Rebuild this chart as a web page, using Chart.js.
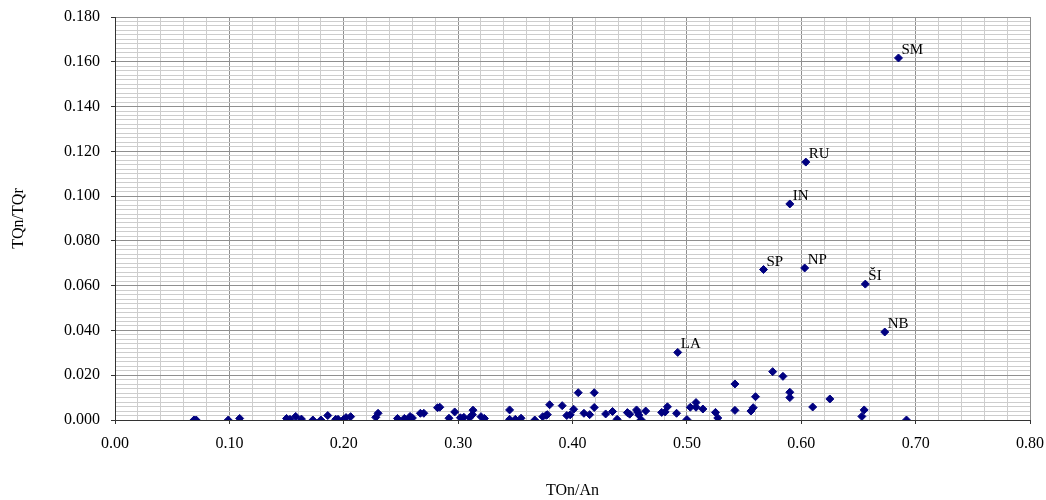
<!DOCTYPE html>
<html>
<head>
<meta charset="utf-8">
<script src="https://cdn.jsdelivr.net/npm/chart.js@4"></script>
<style>
  body { margin: 0; background: #fff; }
</style>
</head>
<body>
<canvas id="myChart" width="1046" height="500"></canvas>
<script>
// unlabeled points (TOn/An, TQn/TQr)
const otherX = [0.069, 0.071, 0.099, 0.109, 0.150, 0.153, 0.158, 0.163, 0.173, 0.180,
    0.186, 0.193, 0.195, 0.200, 0.202, 0.206, 0.228, 0.230, 0.247, 0.253,
    0.256, 0.258, 0.260, 0.267, 0.270, 0.282, 0.284, 0.292, 0.297, 0.302,
    0.305, 0.310, 0.3125, 0.313, 0.320, 0.323, 0.345, 0.345, 0.350, 0.355,
    0.367, 0.374, 0.377, 0.378, 0.380, 0.391, 0.395, 0.398, 0.401, 0.405,
    0.410, 0.415, 0.419, 0.419, 0.429, 0.435, 0.439, 0.448, 0.450, 0.456,
    0.457, 0.458, 0.460, 0.464, 0.478, 0.481, 0.483, 0.491, 0.500, 0.503,
    0.508, 0.508, 0.514, 0.525, 0.527, 0.542, 0.542, 0.556, 0.558, 0.560,
    0.575, 0.584, 0.590, 0.590, 0.610, 0.625, 0.655, 0.653, 0.692];
const otherY = [0.0000, 0.0000, 0.0000, 0.0007, 0.0007, 0.0003, 0.0016, 0.0004, 0.0000, 0.0000,
    0.0020, 0.0003, 0.0003, 0.0003, 0.0011, 0.0015, 0.0012, 0.0030, 0.0007, 0.0007,
    0.0003, 0.0016, 0.0009, 0.0030, 0.0030, 0.0055, 0.0057, 0.0008, 0.0036, 0.0010,
    0.0012, 0.0010, 0.0024, 0.0044, 0.0015, 0.0007, 0.0045, 0.0003, 0.0003, 0.0008,
    0.0000, 0.0015, 0.0021, 0.0024, 0.0068, 0.0064, 0.0020, 0.0023, 0.0048, 0.0122,
    0.0030, 0.0024, 0.0056, 0.0122, 0.0027, 0.0038, 0.0003, 0.0033, 0.0026, 0.0045,
    0.0035, 0.0022, 0.0001, 0.0040, 0.0034, 0.0036, 0.0059, 0.0030, 0.0002, 0.0057,
    0.0078, 0.0057, 0.0049, 0.0034, 0.0009, 0.0161, 0.0043, 0.0040, 0.0055, 0.0104,
    0.0216, 0.0195, 0.0124, 0.0100, 0.0058, 0.0094, 0.0045, 0.0016, 0.0000];

// labeled points
const namedCodes = ['SM', 'RU', 'IN', 'SP', 'NP', 'ŠI', 'NB', 'LA'];
const namedX = [0.685, 0.604, 0.590, 0.567, 0.603, 0.656, 0.673, 0.492];
const namedY = [0.1617, 0.1152, 0.0965, 0.0672, 0.0679, 0.0607, 0.0393, 0.0302];

const serif = '"Liberation Serif", "Times New Roman", serif';

const otherData = otherX.map((x, i) => ({ x: x, y: otherY[i] }));
const namedData = namedX.map((x, i) => ({ x: x, y: namedY[i] }));

const pointLabelPlugin = {
    id: 'pointLabels',
    afterDatasetsDraw(chart) {
        const meta = chart.getDatasetMeta(1);
        const c = chart.ctx;
        c.save();
        c.font = '15px ' + serif;
        c.fillStyle = '#000';
        c.textAlign = 'left';
        c.textBaseline = 'alphabetic';
        meta.data.forEach((el, i) => {
            c.fillText(namedCodes[i], el.x + 3, el.y - 4);
        });
        c.restore();
    }
};

function yMajor(v) { return Math.round(v * 1000) % 20 === 0; }
function xMajor(v) { return Math.round(v * 100) % 10 === 0; }

const ctx = document.getElementById('myChart');
new Chart(ctx, {
    type: 'scatter',
    data: {
        datasets: [{
            data: otherData,
            backgroundColor: '#000080',
            borderColor: '#000080',
            pointStyle: 'rectRot',
            pointRadius: 4,
            pointHoverRadius: 4
        },
        {
            data: namedData,
            backgroundColor: '#000080',
            borderColor: '#000080',
            pointStyle: 'rectRot',
            pointRadius: 4,
            pointHoverRadius: 4
        }]
    },
    options: {
        responsive: false,
        animation: false,
        layout: { padding: { top: 17, right: 16, left: 0, bottom: 0 } },
        plugins: {
            legend: { display: false },
            tooltip: { enabled: false }
        },
        scales: {
            x: {
                type: 'linear',
                min: 0,
                max: 0.8,
                afterFit: (scale) => {
                    scale.height = 80;
                    scale.paddingLeft = 0;
                    scale.paddingRight = 0;
                },
                border: { color: '#333', width: 1 },
                grid: {
                    color: (c) => xMajor(c.tick.value) ? '#8f8f8f' : '#cdcdcd',
                    tickColor: (c) => xMajor(c.tick.value) ? '#333' : 'rgba(0,0,0,0)',
                    tickLength: 4
                },
                ticks: {
                    stepSize: 0.02,
                    autoSkip: false,
                    maxRotation: 0,
                    padding: 10,
                    color: '#000',
                    font: { family: serif, size: 16 },
                    callback: (v) => xMajor(v) ? Number(v).toFixed(2) : ''
                },
                title: {
                    display: true,
                    text: 'TOn/An',
                    color: '#000',
                    font: { family: serif, size: 16 },
                    padding: { top: 0, bottom: 0 }
                }
            },
            y: {
                min: 0,
                max: 0.18,
                afterFit: (scale) => {
                    scale.width = 115;
                    scale.paddingTop = 0;
                    scale.paddingBottom = 0;
                },
                border: { color: '#333', width: 1 },
                grid: {
                    color: (c) => yMajor(c.tick.value) ? '#8f8f8f' : '#cdcdcd',
                    tickColor: (c) => yMajor(c.tick.value) ? '#333' : 'rgba(0,0,0,0)',
                    tickLength: 4
                },
                ticks: {
                    stepSize: 0.002,
                    autoSkip: false,
                    padding: 11,
                    color: '#000',
                    font: { family: serif, size: 16 },
                    callback: (v) => yMajor(v) ? (Math.round(v * 1000) / 1000).toFixed(3) : ''
                },
                title: {
                    display: true,
                    text: 'TQn/TQr',
                    color: '#000',
                    font: { family: serif, size: 16 },
                    padding: { top: 9, bottom: 0 }
                }
            }
        }
    },
    plugins: [pointLabelPlugin]
});
</script>
</body>
</html>
